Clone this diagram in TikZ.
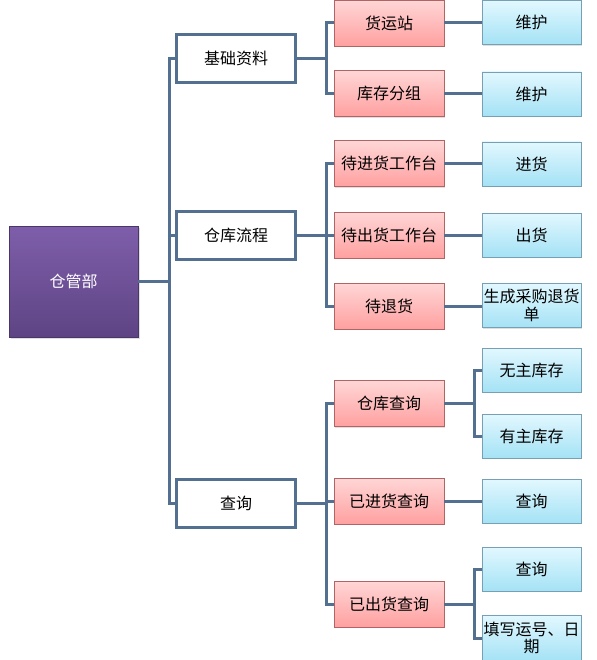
\documentclass[tikz,border=0pt]{standalone}
\usepackage{fontspec}
\setmainfont{Noto Sans CJK SC}
\usetikzlibrary{shadows}
\definecolor{linec}{RGB}{84,112,145}
\definecolor{purtop}{RGB}{126,94,170}
\definecolor{purbot}{RGB}{94,68,132}
\definecolor{pinktop}{RGB}{255,214,214}
\definecolor{pinkbot}{RGB}{255,160,160}
\definecolor{pinkline}{RGB}{176,100,100}
\definecolor{bluetop}{RGB}{226,248,255}
\definecolor{bluebot}{RGB}{164,226,245}
\definecolor{blueline}{RGB}{120,160,180}
\tikzset{
  base/.style={inner sep=0pt, align=center, font=\fontsize{16}{17.5}\selectfont},
  rootbox/.style={base, minimum width=129pt, minimum height=111pt, top color=purtop, bottom color=purbot, draw=purbot!80!black, line width=0.4pt, text=white,
    drop shadow={shadow xshift=1.5pt, shadow yshift=-1.5pt, opacity=0.25}},
  lvtwo/.style={base, minimum width=119pt, minimum height=48pt, fill=white, draw=linec, line width=3pt},
  lvthree/.style={base, minimum width=110pt, minimum height=46pt, top color=pinktop, bottom color=pinkbot, draw=pinkline, line width=0.6pt,
    drop shadow={shadow xshift=1.2pt, shadow yshift=-1.2pt, opacity=0.25}},
  lvfour/.style={base, minimum width=99pt, minimum height=44pt, top color=bluetop, bottom color=bluebot, draw=blueline, line width=0.6pt,
    drop shadow={shadow xshift=1.2pt, shadow yshift=-1.2pt, opacity=0.25}},
  conn/.style={draw=linec, line width=3pt}
}
\begin{document}
\begin{tikzpicture}[x=1pt,y=-1pt]
\useasboundingbox (0,0) rectangle (596,660);
% root
\node[rootbox] (root) at (73.5,281.5) {仓管部};
% level 2
\node[lvtwo] (jc) at (236,58.5) {基础资料};
\node[lvtwo] (lc) at (236,235) {仓库流程};
\node[lvtwo] (cx) at (236,503.5) {查询};
% level 3
\node[lvthree] (hyz) at (389,23) {货运站};
\node[lvthree] (kcfz) at (389,93.5) {库存分组};
\node[lvthree] (djh) at (389,163.5) {待进货工作台};
\node[lvthree] (dch) at (389,235) {待出货工作台};
\node[lvthree] (dth) at (389,306) {待退货};
\node[lvthree] (ckcx) at (389,403.5) {仓库查询};
\node[lvthree] (yjh) at (389,501) {已进货查询};
\node[lvthree] (ych) at (389,604) {已出货查询};
% level 4
\node[lvfour] (wh1) at (531.5,22.5) {维护};
\node[lvfour] (wh2) at (531.5,94) {维护};
\node[lvfour] (jh) at (531.5,164) {进货};
\node[lvfour] (ch) at (531.5,235) {出货};
\node[lvfour] (sc) at (531.5,305.5) {生成采购退货\\单};
\node[lvfour] (wz) at (531.5,370) {无主库存};
\node[lvfour] (yz) at (531.5,436) {有主库存};
\node[lvfour] (cx1) at (531.5,501) {查询};
\node[lvfour] (cx2) at (531.5,569) {查询};
\node[lvfour, minimum height=46pt] (tx) at (531.5,638) {填写运号、日\\期};
% connectors
\foreach \c in {jc,lc,cx} \draw[conn] (root.east) -- +(31,0) |- (\c.west);
\foreach \c in {hyz,kcfz} \draw[conn] (jc.east) -- +(29,0) |- (\c.west);
\foreach \c in {djh,dch,dth} \draw[conn] (lc.east) -- +(29,0) |- (\c.west);
\foreach \c in {ckcx,yjh,ych} \draw[conn] (cx.east) -- +(29,0) |- (\c.west);
\draw[conn] (hyz.east) -- (hyz.east -| wh1.west);
\draw[conn] (kcfz.east) -- (kcfz.east -| wh2.west);
\draw[conn] (djh.east) -- (djh.east -| jh.west);
\draw[conn] (dch.east) -- (dch.east -| ch.west);
\draw[conn] (dth.east) -- (dth.east -| sc.west);
\foreach \c in {wz,yz} \draw[conn] (ckcx.east) -- +(30,0) |- (\c.west);
\draw[conn] (yjh.east) -- (yjh.east -| cx1.west);
\foreach \c in {cx2,tx} \draw[conn] (ych.east) -- +(30,0) |- (\c.west);
\end{tikzpicture}
\end{document}
